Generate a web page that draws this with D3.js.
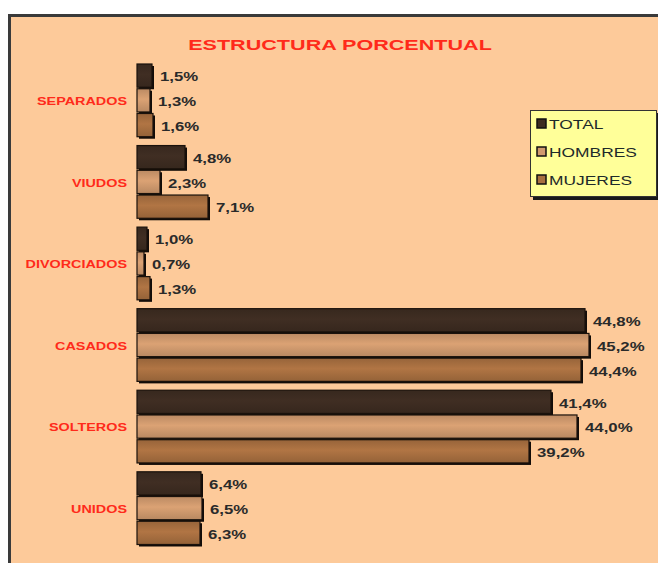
<!DOCTYPE html>
<html>
<head>
<meta charset="utf-8">
<script src="https://cdn.jsdelivr.net/npm/d3@7"></script>
<style>
  body { margin: 0; background: #fff; }
  svg { display: block; font-family: Arial, "Liberation Sans", sans-serif; }
</style>
</head>
<body>
<div id="chart"></div>
<script>
const categories = ["SEPARADOS", "VIUDOS", "DIVORCIADOS", "CASADOS", "SOLTEROS", "UNIDOS"];
const seriesNames = ["TOTAL", "HOMBRES", "MUJERES"];
const totalValues = [1.5, 4.8, 1.0, 44.8, 41.4, 6.4];
const hombresValues = [1.3, 2.3, 0.7, 45.2, 44.0, 6.5];
const mujeresValues = [1.6, 7.1, 1.3, 44.4, 39.2, 6.3];
const seriesColors = ["#3d2c21", "#d09a6e", "#a86f40"];

const width = 658, height = 563;
const stretch = 1.44; // text in the reference is wide

const svg = d3.select("#chart")
    .append("svg")
    .attr("width", width)
    .attr("height", height);

// gradients to give the bars a bit of body
const defs = svg.append("defs");
seriesColors.forEach((c, i) => {
    const g = defs.append("linearGradient")
        .attr("id", "grad" + i)
        .attr("x1", 0).attr("y1", 0).attr("x2", 0).attr("y2", 1);
    g.append("stop").attr("offset", "0%").attr("stop-color", d3.color(c).darker(0.3));
    g.append("stop").attr("offset", "45%").attr("stop-color", d3.color(c).brighter(0.15));
    g.append("stop").attr("offset", "100%").attr("stop-color", d3.color(c).darker(0.35));
});

// chart frame
svg.append("rect")
    .attr("x", 9.5).attr("y", 15.5)
    .attr("width", 700).attr("height", 600)
    .attr("fill", "#fdca9a")
    .attr("stroke", "#3a3a3a")
    .attr("stroke-width", 3);

// title
svg.append("text")
    .attr("transform", `translate(340,50) scale(${stretch},1)`)
    .attr("text-anchor", "middle")
    .attr("font-size", 15)
    .attr("font-weight", "bold")
    .attr("fill", "#ff2a1a")
    .text("ESTRUCTURA PORCENTUAL");

const rows = categories.map((c, i) => ({
    cat: c,
    values: [totalValues[i], hombresValues[i], mujeresValues[i]]
}));

const x = d3.scaleLinear()
    .domain([0, 10])
    .range([137, 237]);

const y = d3.scaleBand()
    .domain(categories)
    .range([64, 546])
    .paddingInner(0.09)
    .paddingOuter(0);

const ySub = d3.scaleBand()
    .domain(d3.range(seriesNames.length))
    .range([0, y.bandwidth()])
    .padding(0);

// category labels
svg.append("g")
    .selectAll("text")
    .data(categories)
    .join("text")
    .attr("transform", d => `translate(127,${y(d) + y.bandwidth() / 2 + 4}) scale(${stretch},1)`)
    .attr("text-anchor", "end")
    .attr("font-size", 10)
    .attr("font-weight", "bold")
    .attr("fill", "#ff2a1a")
    .text(d => d);

const groups = svg.append("g")
    .selectAll("g")
    .data(rows)
    .join("g")
    .attr("transform", d => `translate(0,${y(d.cat)})`);

const cells = groups.selectAll("g")
    .data(d => d.values.map((v, i) => ({ v, i })))
    .join("g");

// shadow
cells.append("rect")
    .attr("x", x(0) + 2)
    .attr("y", d => ySub(d.i) + 2)
    .attr("width", d => x(d.v) - x(0))
    .attr("height", ySub.bandwidth() - 1.5)
    .attr("fill", "#120c08");

cells.append("rect")
    .attr("x", x(0))
    .attr("y", d => ySub(d.i))
    .attr("width", d => x(d.v) - x(0))
    .attr("height", ySub.bandwidth() - 1.5)
    .attr("fill", d => `url(#grad${d.i})`)
    .attr("stroke", "#1a120c")
    .attr("stroke-width", 1.2);

cells.append("text")
    .attr("transform", d => `translate(${x(d.v) + 8},${ySub(d.i) + ySub.bandwidth() / 2 + 5}) scale(1.4,1)`)
    .attr("font-size", 12)
    .attr("font-weight", "bold")
    .attr("fill", "#2a2a2a")
    .text(d => d.v.toFixed(1).replace(".", ",") + "%");

// legend
const legend = svg.append("g").attr("transform", "translate(530,110)");
legend.append("rect")
    .attr("x", 3).attr("y", 3)
    .attr("width", 127).attr("height", 87)
    .attr("fill", "#1a1a1a");
legend.append("rect")
    .attr("x", 0.5).attr("y", 0.5)
    .attr("width", 126).attr("height", 86)
    .attr("fill", "#ffff99")
    .attr("stroke", "#333")
    .attr("stroke-width", 1);

const items = legend.selectAll("g.item")
    .data(seriesNames)
    .join("g")
    .attr("class", "item")
    .attr("transform", (d, i) => `translate(0,${14 + i * 28})`);

items.append("rect")
    .attr("x", 7).attr("y", -5)
    .attr("width", 9).attr("height", 9)
    .attr("fill", (d, i) => seriesColors[i])
    .attr("stroke", "#111")
    .attr("stroke-width", 1.5);

items.append("text")
    .attr("transform", `translate(19,5) scale(1.45,1)`)
    .attr("font-size", 12)
    .attr("fill", "#1e2a2a")
    .text(d => d);
</script>
</body>
</html>
